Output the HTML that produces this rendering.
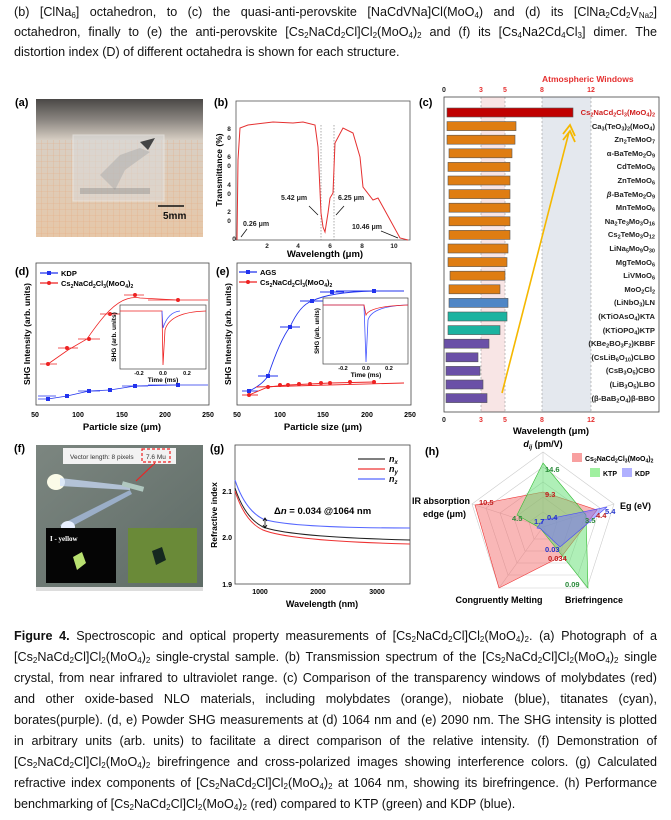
<!DOCTYPE html>
<html><head><meta charset="utf-8"><style>
body{margin:0;background:#fff;}
#w{position:relative;width:671px;height:820px;overflow:hidden;font-family:"Liberation Sans",Arial,sans-serif;}
.t{position:absolute;left:14px;width:643px;font-size:12.6px;line-height:15px;white-space:nowrap;text-align:justify;text-align-last:justify;color:#111;}
.t.l{text-align-last:left;}
sub{font-size:8px;vertical-align:-2px;line-height:0}
.bl{position:absolute;right:16px;font-size:7.6px;font-weight:bold;color:#222;white-space:nowrap;line-height:9px;}
.bl sub{font-size:5.5px;vertical-align:-1.5px}
svg{position:absolute;left:0;top:0}
</style></head><body><div id="w">
<div class="t" style="top:5px">(b) [ClNa<sub>6</sub>] octahedron, to (c) the quasi-anti-perovskite [NaCdVNa]Cl(MoO<sub>4</sub>) and (d) its [ClNa<sub>2</sub>Cd<sub>2</sub>V<sub>Na2</sub>]</div>
<div class="t" style="top:25px">octahedron, finally to (e) the anti-perovskite [Cs<sub>2</sub>NaCd<sub>2</sub>Cl]Cl<sub>2</sub>(MoO<sub>4</sub>)<sub>2</sub> and (f) its [Cs<sub>4</sub>Na2Cd<sub>4</sub>Cl<sub>3</sub>] dimer. The</div>
<div class="t l" style="top:45px">distortion index (D) of different octahedra is shown for each structure.</div>

<svg width="671" height="820" viewBox="0 0 671 820" font-family="Liberation Sans, Arial, sans-serif">
<!-- (a) photo -->
<text x="15" y="106" font-size="11" font-weight="bold">(a)</text>
<defs>
<linearGradient id="fl" x1="0" y1="0" x2="0" y2="1"><stop offset="0" stop-color="#4a4846"/><stop offset="0.15" stop-color="#8a8580"/><stop offset="0.3" stop-color="#d8cfc4"/><stop offset="1" stop-color="#e6c7a8"/></linearGradient>
<pattern id="gr" width="6" height="6" patternUnits="userSpaceOnUse"><path d="M6 0V6M0 6H6" stroke="#e8a070" stroke-width="0.6" fill="none"/></pattern>
<linearGradient id="gf" x1="0" y1="0" x2="1" y2="1"><stop offset="0" stop-color="#7c8680"/><stop offset="1" stop-color="#5e6b66"/></linearGradient>
</defs>
<rect x="36" y="99" width="167" height="138" fill="url(#fl)"/>
<rect x="36" y="140" width="167" height="97" fill="url(#gr)" opacity="0.7"/>
<rect x="73" y="135" width="91" height="66" fill="#dcdcdc" opacity="0.55" stroke="#f4f4f4"/>
<path d="M100 175 L120 155 L140 148 L150 152 L125 170 L115 190Z" fill="#aaa" opacity="0.5"/>
<path d="M140 142 L155 138 L148 150Z" fill="#444"/>
<rect x="80" y="188" width="70" height="6" fill="#888" opacity="0.4"/>
<line x1="158" y1="206" x2="184" y2="206" stroke="#111" stroke-width="1.5"/>
<text x="163" y="219" font-size="10" font-weight="bold" fill="#111">5mm</text>

<!-- (b) -->
<text x="214" y="106" font-size="11" font-weight="bold">(b)</text>
<rect x="236" y="101" width="174" height="139" fill="none" stroke="#555" stroke-width="0.8"/>
<g font-size="6.5" font-weight="bold" text-anchor="middle" fill="#222">
<text x="229" y="131">8</text><text x="229" y="140">0</text>
<text x="229" y="159">6</text><text x="229" y="168">0</text>
<text x="229" y="187">4</text><text x="229" y="196">0</text>
<text x="229" y="214">2</text><text x="229" y="223">0</text>
<text x="234" y="241">0</text>
<text x="267" y="248">2</text><text x="298" y="248">4</text><text x="330" y="248">6</text><text x="362" y="248">8</text><text x="394" y="248">10</text>
</g>
<text x="325" y="257" font-size="9.5" font-weight="bold" text-anchor="middle">Wavelength (μm)</text>
<text transform="translate(222,170) rotate(-90)" font-size="8.5" font-weight="bold" text-anchor="middle">Transmittance (%)</text>
<line x1="321" y1="125" x2="321" y2="240" stroke="#888" stroke-dasharray="1.5,1.5" stroke-width="0.7"/>
<line x1="334" y1="125" x2="334" y2="240" stroke="#888" stroke-dasharray="1.5,1.5" stroke-width="0.7"/>
<polyline fill="none" stroke="#e53030" stroke-width="1" points="237,240 238,160 240,128 248,125 273,122 293,123 303,122 315,125 318,147 321,213 323,227 325,232 328,213 330,198 333,193 335,143 343,128 353,133 360,157 363,187 373,200 378,198 383,207 400,238 408,240"/>
<g font-size="7" font-weight="bold" fill="#222">
<text x="243" y="226">0.26 μm</text><text x="281" y="200">5.42 μm</text><text x="338" y="200">6.25 μm</text><text x="352" y="229">10.46 μm</text>
</g>
<g stroke="#111" stroke-width="0.8"><line x1="247" y1="229" x2="241" y2="237"/><line x1="309" y1="206" x2="318" y2="215"/><line x1="344" y1="206" x2="336" y2="215"/><line x1="381" y1="231" x2="398" y2="238"/></g>

<!-- (c) -->
<text x="419" y="106" font-size="11" font-weight="bold">(c)</text>
<rect x="481" y="97" width="24" height="315" fill="#f6dede" opacity="0.8"/>
<rect x="542" y="97" width="49" height="315" fill="#e4e8ee"/>
<g stroke="#999" stroke-dasharray="2,2" stroke-width="0.6"><line x1="481" y1="97" x2="481" y2="412"/><line x1="505" y1="97" x2="505" y2="412"/><line x1="542" y1="97" x2="542" y2="412"/><line x1="591" y1="97" x2="591" y2="412"/></g>
<rect x="444" y="97" width="215" height="315" fill="none" stroke="#444" stroke-width="0.8"/>
<text x="542" y="82" font-size="8.5" font-weight="bold" fill="#e53030">Atmospheric Windows</text>
<g font-size="7" font-weight="bold" text-anchor="middle" fill="#e53030">
<text x="444" y="92" fill="#222">0</text><text x="481" y="92">3</text><text x="505" y="92">5</text><text x="542" y="92">8</text><text x="591" y="92">12</text>
<text x="444" y="422" fill="#222">0</text><text x="481" y="422">3</text><text x="505" y="422">5</text><text x="542" y="422">8</text><text x="591" y="422">12</text>
</g>
<text x="551" y="434" font-size="9.5" font-weight="bold" text-anchor="middle">Wavelength (μm)</text>
<g stroke-width="0.6" stroke="#555">
<rect x="447" y="108" width="126" height="9" fill="#c00000"/>
<g fill="#df7d12">
<rect x="447" y="121.6" width="69" height="9"/><rect x="447" y="135.2" width="68" height="9"/><rect x="449" y="148.8" width="63" height="9"/>
<rect x="448" y="162.4" width="62" height="9"/><rect x="448" y="176" width="62" height="9"/><rect x="449" y="189.6" width="61" height="9"/>
<rect x="449" y="203.2" width="61" height="9"/><rect x="449" y="216.8" width="61" height="9"/><rect x="449" y="230.4" width="61" height="9"/>
<rect x="448" y="244" width="60" height="9"/><rect x="448" y="257.6" width="59" height="9"/><rect x="450" y="271.2" width="55" height="9"/>
<rect x="449" y="284.8" width="51" height="9"/></g>
<rect x="449" y="298.4" width="59" height="9" fill="#4f86c6"/>
<rect x="448" y="312" width="59" height="9" fill="#1bb3a0"/><rect x="448" y="325.6" width="52" height="9" fill="#1bb3a0"/>
<g fill="#6a50a7"><rect x="444" y="339.2" width="45" height="9"/><rect x="446" y="352.8" width="32" height="9"/><rect x="446" y="366.4" width="34" height="9"/><rect x="446" y="380" width="37" height="9"/><rect x="446" y="393.6" width="41" height="9"/></g>
</g>
<line x1="502" y1="393" x2="569" y2="132" stroke="#f5b800" stroke-width="1.6"/>
<polyline points="563,134 570,125 575,136" fill="none" stroke="#f5b800" stroke-width="1.8"/>
<polyline points="563,140 570,131 575,142" fill="none" stroke="#f5b800" stroke-width="1.8"/>

<!-- (d) -->
<text x="15" y="275" font-size="11" font-weight="bold">(d)</text>
<rect x="36" y="263" width="173" height="142" fill="none" stroke="#444" stroke-width="0.8"/>
<g font-size="7" font-weight="bold" text-anchor="middle"><text x="35" y="417">50</text><text x="78" y="417">100</text><text x="122" y="417">150</text><text x="165" y="417">200</text><text x="208" y="417">250</text>
<text x="237" y="417">50</text><text x="280" y="417">100</text><text x="323" y="417">150</text><text x="367" y="417">200</text><text x="410" y="417">250</text></g>
<text x="122" y="430" font-size="9.5" font-weight="bold" text-anchor="middle">Particle size (μm)</text>
<text x="323" y="430" font-size="9.5" font-weight="bold" text-anchor="middle">Particle size (μm)</text>
<text transform="translate(30,334) rotate(-90)" font-size="8.5" font-weight="bold" text-anchor="middle">SHG Intensity (arb. units)</text>
<text transform="translate(231,334) rotate(-90)" font-size="8.5" font-weight="bold" text-anchor="middle">SHG Intensity (arb. units)</text>
<line x1="40" y1="273" x2="58" y2="273" stroke="#2233ee" stroke-width="1.2"/><rect x="47" y="271" width="4" height="4" fill="#2233ee"/>
<line x1="40" y1="283" x2="58" y2="283" stroke="#ee2222" stroke-width="1.2"/><circle cx="49" cy="283" r="2" fill="#ee2222"/>
<text x="61" y="276" font-size="7.5" font-weight="bold">KDP</text>
<text x="61" y="286" font-size="7.5" font-weight="bold">Cs<tspan font-size="5" dy="2">2</tspan><tspan dy="-2">NaCd</tspan><tspan font-size="5" dy="2">2</tspan><tspan dy="-2">Cl</tspan><tspan font-size="5" dy="2">3</tspan><tspan dy="-2">(MoO</tspan><tspan font-size="5" dy="2">4</tspan><tspan dy="-2">)</tspan><tspan font-size="5" dy="2">2</tspan></text>
<g stroke="#ee2222" stroke-width="0.8" fill="none">
<path d="M48 364 L68 350 L87 339 Q100 320 109 311 Q125 295 140 298 L178 300"/>
<line x1="40" y1="364" x2="57" y2="364"/><line x1="58" y1="348" x2="78" y2="348"/><line x1="78" y1="339" x2="100" y2="339"/><line x1="100" y1="314" x2="122" y2="314"/><line x1="124" y1="295" x2="144" y2="295"/><line x1="148" y1="300" x2="208" y2="300"/></g>
<g fill="#ee2222"><circle cx="48" cy="364" r="2"/><circle cx="67" cy="348" r="2"/><circle cx="89" cy="339" r="2"/><circle cx="110" cy="314" r="2"/><circle cx="135" cy="295" r="2"/><circle cx="178" cy="300" r="2"/></g>
<g stroke="#2233ee" stroke-width="0.8" fill="none"><path d="M38 399 L48 399 L67 396 L89 391 L110 390 L135 386 L178 385"/>
<line x1="38" y1="396" x2="56" y2="396"/><line x1="78" y1="391" x2="100" y2="391"/><line x1="122" y1="386" x2="148" y2="386"/><line x1="148" y1="385" x2="208" y2="385"/></g>
<g fill="#2233ee"><rect x="46" y="397" width="4" height="4"/><rect x="65" y="394" width="4" height="4"/><rect x="87" y="389" width="4" height="4"/><rect x="108" y="388" width="4" height="4"/><rect x="133" y="384" width="4" height="4"/><rect x="176" y="383" width="4" height="4"/></g>
<rect x="120" y="305" width="86" height="64" fill="#fff" stroke="#444" stroke-width="0.7"/>
<path d="M120 311 L162 311 L163 365 L165 330 Q170 312 206 311" fill="none" stroke="#ee2222" stroke-width="0.8"/>
<path d="M162 311 L163 328 Q168 312 180 311" fill="none" stroke="#4455ff" stroke-width="0.8"/>
<g font-size="5.5" font-weight="bold" text-anchor="middle"><text x="139" y="375">-0.2</text><text x="163" y="375">0.0</text><text x="187" y="375">0.2</text></g>
<text x="163" y="382" font-size="6.5" font-weight="bold" text-anchor="middle">Time (ms)</text>
<text transform="translate(116,337) rotate(-90)" font-size="6.5" font-weight="bold" text-anchor="middle">SHG (arb. units)</text>

<!-- (e) -->
<text x="216" y="275" font-size="11" font-weight="bold">(e)</text>
<rect x="237" y="263" width="174" height="142" fill="none" stroke="#444" stroke-width="0.8"/>
<line x1="239" y1="272" x2="257" y2="272" stroke="#2233ee" stroke-width="1.2"/><rect x="246" y="270" width="4" height="4" fill="#2233ee"/>
<line x1="239" y1="282" x2="257" y2="282" stroke="#ee2222" stroke-width="1.2"/><circle cx="248" cy="282" r="2" fill="#ee2222"/>
<text x="260" y="275" font-size="7.5" font-weight="bold">AGS</text>
<text x="260" y="285" font-size="7.5" font-weight="bold">Cs<tspan font-size="5" dy="2">2</tspan><tspan dy="-2">NaCd</tspan><tspan font-size="5" dy="2">2</tspan><tspan dy="-2">Cl</tspan><tspan font-size="5" dy="2">3</tspan><tspan dy="-2">(MoO</tspan><tspan font-size="5" dy="2">4</tspan><tspan dy="-2">)</tspan><tspan font-size="5" dy="2">2</tspan></text>
<g stroke="#2233ee" stroke-width="0.9" fill="none"><path d="M249 391 Q262 385 268 376 Q280 340 290 327 Q300 305 312 301 Q330 292 374 291"/>
<line x1="242" y1="391" x2="258" y2="391"/><line x1="258" y1="376" x2="278" y2="376"/><line x1="280" y1="327" x2="300" y2="327"/><line x1="300" y1="301" x2="324" y2="301"/><line x1="320" y1="292" x2="344" y2="292"/><line x1="336" y1="291" x2="404" y2="291"/></g>
<g fill="#2233ee"><rect x="247" y="389" width="4" height="4"/><rect x="266" y="374" width="4" height="4"/><rect x="288" y="325" width="4" height="4"/><rect x="310" y="299" width="4" height="4"/><rect x="330" y="290" width="4" height="4"/><rect x="372" y="289" width="4" height="4"/></g>
<g stroke="#ee2222" stroke-width="0.9" fill="none"><path d="M249 395 L268 387 L288 385 L310 384 L330 383 L374 382"/><line x1="242" y1="395" x2="258" y2="395"/><line x1="256" y1="387" x2="404" y2="383"/></g>
<g fill="#ee2222"><circle cx="249" cy="395" r="2"/><circle cx="268" cy="387" r="2"/><circle cx="280" cy="385" r="2"/><circle cx="288" cy="385" r="2"/><circle cx="299" cy="384" r="2"/><circle cx="310" cy="384" r="2"/><circle cx="321" cy="383" r="2"/><circle cx="330" cy="383" r="2"/><circle cx="350" cy="382" r="2"/><circle cx="374" cy="382" r="2"/></g>
<rect x="323" y="298" width="85" height="66" fill="#fff" stroke="#444" stroke-width="0.7"/>
<path d="M323 305 L364 305 L366 362 L368 320 Q372 306 408 305" fill="none" stroke="#4455ff" stroke-width="0.8"/>
<path d="M323 305 L364 305 L366 315 Q370 306 408 305" fill="none" stroke="#ee2222" stroke-width="0.8"/>
<g font-size="5.5" font-weight="bold" text-anchor="middle"><text x="343" y="370">-0.2</text><text x="366" y="370">0.0</text><text x="389" y="370">0.2</text></g>
<text x="366" y="377" font-size="6.5" font-weight="bold" text-anchor="middle">Time (ms)</text>
<text transform="translate(319,331) rotate(-90)" font-size="6" font-weight="bold" text-anchor="middle">SHG (arb. units)</text>

<!-- (f) -->
<text x="14" y="452" font-size="11" font-weight="bold">(f)</text>
<rect x="36" y="445" width="167" height="142" fill="url(#gf)"/>
<rect x="63" y="448" width="113" height="16" fill="#f2f2f2"/>
<text x="70" y="459" font-size="6.5" fill="#333">Vector length: 8 pixels</text>
<text x="146" y="459" font-size="6.5" fill="#333">7.6 Mu</text>
<rect x="142" y="449" width="28" height="13" fill="none" stroke="#e22" stroke-width="1.2" stroke-dasharray="3,2"/>
<line x1="136" y1="481" x2="155" y2="463" stroke="#e22" stroke-width="1.2"/>
<ellipse cx="56" cy="482" rx="9" ry="8" fill="#fbfbe8"/>
<path d="M60 478 L130 486 L130 490 L60 486Z" fill="#cfe0ff" opacity="0.7"/>
<path d="M60 525 L130 490 L132 494 L65 530Z" fill="#b8d0ff" opacity="0.6"/>
<ellipse cx="68" cy="527" rx="7" ry="6" fill="#e8f0ff"/>
<rect x="122" y="484" width="22" height="5" fill="#b0c8c0" transform="rotate(15 133 486)"/>
<rect x="46" y="528" width="70" height="55" fill="#050505"/>
<text x="50" y="541" font-size="7" font-weight="bold" fill="#fff" font-family="Liberation Serif, serif">I - yellow</text>
<path d="M73 557 L82 552 L86 563 L77 570Z" fill="#b8e070"/>
<rect x="128" y="528" width="69" height="55" fill="#6a8a38"/>
<path d="M152 551 L162 547 L166 560 L156 565Z" fill="#152820"/>
<rect x="36" y="587" width="167" height="4" fill="#ddd"/>

<!-- (g) -->
<text x="210" y="452" font-size="11" font-weight="bold">(g)</text>
<rect x="235" y="445" width="175" height="139" fill="none" stroke="#444" stroke-width="0.8"/>
<g font-size="7" font-weight="bold" text-anchor="end"><text x="232" y="494">2.1</text><text x="232" y="540">2.0</text><text x="232" y="587">1.9</text></g>
<g font-size="7" font-weight="bold" text-anchor="middle"><text x="260" y="594">1000</text><text x="318" y="594">2000</text><text x="377" y="594">3000</text></g>
<text x="322" y="607" font-size="9" font-weight="bold" text-anchor="middle">Wavelength (nm)</text>
<text transform="translate(217,515) rotate(-90)" font-size="8.5" font-weight="bold" text-anchor="middle">Refractive index</text>
<path d="M235 480 Q245 510 263 519 Q290 528 410 528" fill="none" stroke="#5566ff" stroke-width="1.1"/>
<path d="M235 488 Q245 518 263 527 Q290 537 410 540" fill="none" stroke="#222" stroke-width="1"/>
<path d="M235 491 Q245 522 263 530 Q290 541 410 544" fill="none" stroke="#ee3333" stroke-width="1"/>
<line x1="265" y1="519" x2="265" y2="527" stroke="#000" stroke-width="0.8"/>
<path d="M263 521 L265 518 L267 521 M263 525 L265 528 L267 525" fill="none" stroke="#000" stroke-width="0.8"/>
<text x="274" y="514" font-size="9.5" font-weight="bold">Δ<tspan font-style="italic">n</tspan> = 0.034  @1064 nm</text>
<line x1="358" y1="459" x2="385" y2="459" stroke="#333" stroke-width="1.2"/>
<line x1="358" y1="469" x2="385" y2="469" stroke="#ee3333" stroke-width="1.2"/>
<line x1="358" y1="479" x2="385" y2="479" stroke="#5566ff" stroke-width="1.2"/>
<g font-size="9" font-style="italic" font-weight="bold"><text x="389" y="462">n<tspan font-size="6" dy="2">x</tspan></text><text x="389" y="472">n<tspan font-size="6" dy="2">y</tspan></text><text x="389" y="482">n<tspan font-size="6" dy="2">z</tspan></text></g>

<!-- (h) -->
<text x="425" y="455" font-size="11" font-weight="bold">(h)</text>
<g fill="none" stroke="#ccc" stroke-width="0.6">
<polygon points="543,452 614,504 587,588 499,588 472,504"/>
<polygon points="543,467 600,508 578,575 508,575 486,508"/>
<polygon points="543,482 586,513 569,563 517,563 500,513"/>
<polygon points="543,497 572,518 561,551 525,551 514,518"/>
<polygon points="543,512 557,522 552,539 534,539 529,522"/>
<line x1="543" y1="527" x2="543" y2="452"/><line x1="543" y1="527" x2="614" y2="504"/><line x1="543" y1="527" x2="587" y2="588"/><line x1="543" y1="527" x2="499" y2="588"/><line x1="543" y1="527" x2="472" y2="504"/>
</g>
<polygon points="543,492 597,510 562,556 499,588 475,505" fill="#f47070" fill-opacity="0.5" stroke="#e33" stroke-width="0.6"/>
<polygon points="543,463 586,515 588,588 540,528 517,515" fill="#60e070" fill-opacity="0.5" stroke="#3b3" stroke-width="0.6"/>
<polygon points="543,520 607,507 560,547 541,529 537,528" fill="#7070ff" fill-opacity="0.5" stroke="#44f" stroke-width="0.6"/>
<text x="543" y="447" font-size="9" font-weight="bold" text-anchor="middle"><tspan font-style="italic">d</tspan><tspan font-size="6" dy="2" font-style="italic">ij</tspan><tspan dy="-2"> (pm/V)</tspan></text>
<text x="620" y="509" font-size="9" font-weight="bold">Eg (eV)</text>
<text x="470" y="504" font-size="9" font-weight="bold" text-anchor="end">IR absorption</text>
<text x="466" y="517" font-size="9" font-weight="bold" text-anchor="end">edge (μm)</text>
<text x="499" y="603" font-size="9" font-weight="bold" text-anchor="middle">Congruently Melting</text>
<text x="594" y="603" font-size="9" font-weight="bold" text-anchor="middle">Briefringence</text>
<g font-size="7.5" font-weight="bold">
<text x="545" y="472" fill="#2a8a3a">14.6</text><text x="545" y="497" fill="#c02020">9.3</text>
<text x="479" y="505" fill="#c02020">10.5</text><text x="512" y="521" fill="#2a8a3a">4.5</text>
<text x="534" y="524" fill="#2233cc">1.7</text><text x="547" y="520" fill="#2233cc">0.4</text>
<text x="585" y="523" fill="#2a8a3a">3.5</text><text x="596" y="518" fill="#c02020">4.4</text><text x="605" y="514" fill="#2233cc">5.4</text>
<text x="545" y="552" fill="#2233cc">0.03</text><text x="548" y="561" fill="#c02020">0.034</text>
<text x="565" y="587" fill="#2a8a3a">0.09</text>
</g>
<rect x="572" y="453" width="10" height="9" fill="#f8a0a0"/>
<text x="585" y="461" font-size="7" font-weight="bold">Cs<tspan font-size="5" dy="1.5">2</tspan><tspan dy="-1.5">NaCd</tspan><tspan font-size="5" dy="1.5">2</tspan><tspan dy="-1.5">Cl</tspan><tspan font-size="5" dy="1.5">3</tspan><tspan dy="-1.5">(MoO</tspan><tspan font-size="5" dy="1.5">4</tspan><tspan dy="-1.5">)</tspan><tspan font-size="5" dy="1.5">2</tspan></text>
<rect x="590" y="468" width="10" height="9" fill="#a0f0a0"/><text x="603" y="476" font-size="7" font-weight="bold">KTP</text>
<rect x="622" y="468" width="10" height="9" fill="#b0b0ff"/><text x="635" y="476" font-size="7" font-weight="bold">KDP</text>
</svg>

<!-- bar labels (c) -->
<div class="bl" style="top:108px;color:#d02020">Cs<sub>2</sub>NaCd<sub>2</sub>Cl<sub>3</sub>(MoO<sub>4</sub>)<sub>2</sub></div>
<div class="bl" style="top:121.6px">Ca<sub>3</sub>(TeO<sub>3</sub>)<sub>2</sub>(MoO<sub>4</sub>)</div>
<div class="bl" style="top:135.2px">Zn<sub>2</sub>TeMoO<sub>7</sub></div>
<div class="bl" style="top:148.8px">α-BaTeMo<sub>2</sub>O<sub>9</sub></div>
<div class="bl" style="top:162.4px">CdTeMoO<sub>6</sub></div>
<div class="bl" style="top:176px">ZnTeMoO<sub>6</sub></div>
<div class="bl" style="top:189.6px"><i>β</i>-BaTeMo<sub>2</sub>O<sub>9</sub></div>
<div class="bl" style="top:203.2px">MnTeMoO<sub>6</sub></div>
<div class="bl" style="top:216.8px">Na<sub>2</sub>Te<sub>3</sub>Mo<sub>3</sub>O<sub>16</sub></div>
<div class="bl" style="top:230.4px">Cs<sub>2</sub>TeMo<sub>3</sub>O<sub>12</sub></div>
<div class="bl" style="top:244px">LiNa<sub>5</sub>Mo<sub>9</sub>O<sub>30</sub></div>
<div class="bl" style="top:257.6px">MgTeMoO<sub>6</sub></div>
<div class="bl" style="top:271.2px">LiVMoO<sub>6</sub></div>
<div class="bl" style="top:284.8px">MoO<sub>2</sub>Cl<sub>2</sub></div>
<div class="bl" style="top:298.4px">(LiNbO<sub>3</sub>)LN</div>
<div class="bl" style="top:312px">(KTiOAsO<sub>4</sub>)KTA</div>
<div class="bl" style="top:325.6px">(KTiOPO<sub>4</sub>)KTP</div>
<div class="bl" style="top:339.2px">(KBe<sub>2</sub>BO<sub>3</sub>F<sub>2</sub>)KBBF</div>
<div class="bl" style="top:352.8px">(CsLiB<sub>6</sub>O<sub>10</sub>)CLBO</div>
<div class="bl" style="top:366.4px">(CsB<sub>3</sub>O<sub>5</sub>)CBO</div>
<div class="bl" style="top:380px">(LiB<sub>3</sub>O<sub>5</sub>)LBO</div>
<div class="bl" style="top:393.6px">(β-BaB<sub>2</sub>O<sub>4</sub>)β-BBO</div>

<!-- caption -->
<div class="t" style="top:629px"><b>Figure 4.</b> Spectroscopic and optical property measurements of [Cs<sub>2</sub>NaCd<sub>2</sub>Cl]Cl<sub>2</sub>(MoO<sub>4</sub>)<sub>2</sub>. (a) Photograph of a</div>
<div class="t" style="top:650px">[Cs<sub>2</sub>NaCd<sub>2</sub>Cl]Cl<sub>2</sub>(MoO<sub>4</sub>)<sub>2</sub> single-crystal sample. (b) Transmission spectrum of the [Cs<sub>2</sub>NaCd<sub>2</sub>Cl]Cl<sub>2</sub>(MoO<sub>4</sub>)<sub>2</sub> single</div>
<div class="t" style="top:671px">crystal, from near infrared to ultraviolet range. (c) Comparison of the transparency windows of molybdates (red)</div>
<div class="t" style="top:692px">and other oxide-based NLO materials, including molybdates (orange), niobate (blue), titanates (cyan),</div>
<div class="t" style="top:713px">borates(purple). (d, e) Powder SHG measurements at (d) 1064 nm and (e) 2090 nm. The SHG intensity is plotted</div>
<div class="t" style="top:734px">in arbitrary units (arb. units) to facilitate a direct comparison of the relative intensity. (f) Demonstration of</div>
<div class="t" style="top:755px">[Cs<sub>2</sub>NaCd<sub>2</sub>Cl]Cl<sub>2</sub>(MoO<sub>4</sub>)<sub>2</sub> birefringence and cross-polarized images showing interference colors. (g) Calculated</div>
<div class="t" style="top:776px">refractive index components of [Cs<sub>2</sub>NaCd<sub>2</sub>Cl]Cl<sub>2</sub>(MoO<sub>4</sub>)<sub>2</sub> at 1064 nm, showing its birefringence. (h) Performance</div>
<div class="t l" style="top:797px">benchmarking of [Cs<sub>2</sub>NaCd<sub>2</sub>Cl]Cl<sub>2</sub>(MoO<sub>4</sub>)<sub>2</sub> (red) compared to KTP (green) and KDP (blue).</div>
</div></body></html>
